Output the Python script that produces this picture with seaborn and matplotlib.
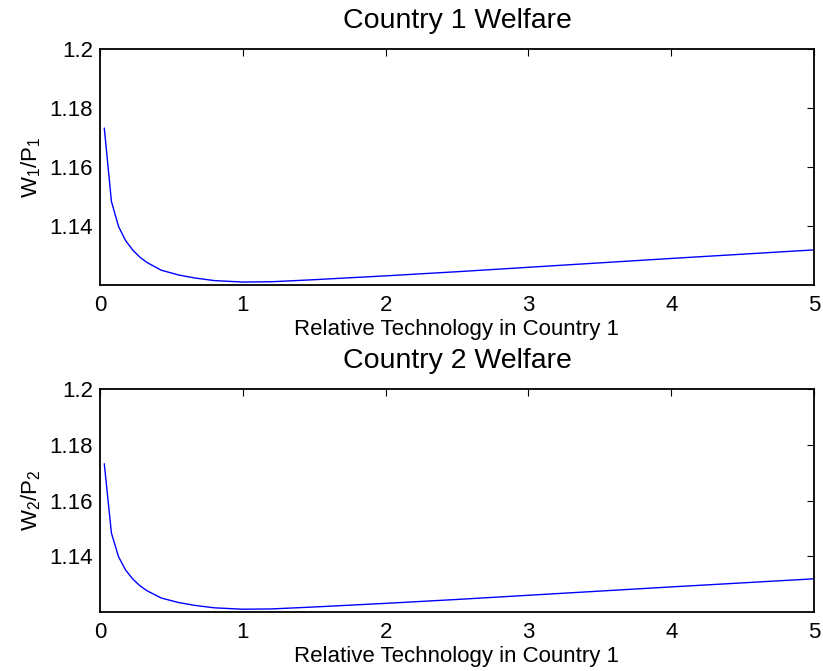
import matplotlib
matplotlib.use('Agg')
import matplotlib.pyplot as plt
import seaborn as sns
import pandas as pd

# значения
tech = [0.03, 0.08, 0.13, 0.18, 0.23, 0.28, 0.33, 0.43, 0.55, 0.66, 0.8,
        1.0, 1.2, 1.5, 2.0, 2.5, 3.0, 4.0, 5.0]
welfare_1 = [1.1732, 1.1483, 1.1398, 1.1350, 1.1318, 1.1294, 1.1276, 1.1250,
             1.1234, 1.1224, 1.1215, 1.1210, 1.1211, 1.1218, 1.1231, 1.1245,
             1.1260, 1.1290, 1.1319]
welfare_2 = [1.1732, 1.1483, 1.1398, 1.1350, 1.1318, 1.1294, 1.1276, 1.1250,
             1.1234, 1.1224, 1.1215, 1.1210, 1.1211, 1.1218, 1.1231, 1.1245,
             1.1260, 1.1290, 1.1319]
x_ticks = [0, 1, 2, 3, 4, 5]
y_ticks = [1.14, 1.16, 1.18, 1.2]
y_tick_labels = ['1.14', '1.16', '1.18', '1.2']
titles = ['Country 1 Welfare', 'Country 2 Welfare']
ylabels = [r'W$_1$/P$_1$', r'W$_2$/P$_2$']
xlabel = 'Relative Technology in Country 1'

sns.set_theme(style='white')
plt.rcParams['font.family'] = ['Liberation Sans', 'DejaVu Sans']
plt.rcParams['mathtext.fontset'] = 'custom'
plt.rcParams['mathtext.rm'] = 'Liberation Sans'
plt.rcParams['mathtext.it'] = 'Liberation Sans'

fig = plt.figure(figsize=(8.23, 6.71), dpi=100)
fig.patch.set_facecolor('white')

# позиции осей в долях фигуры
positions = [[100 / 823, (671 - 285) / 671, 714 / 823, 236 / 671],
             [100 / 823, (671 - 612) / 671, 714 / 823, 223 / 671]]
series = [welfare_1, welfare_2]

for pos, vals, title, ylab in zip(positions, series, titles, ylabels):
    ax = fig.add_axes(pos)
    df = pd.DataFrame({'tech': tech, 'welfare': vals})
    sns.lineplot(data=df, x='tech', y='welfare', ax=ax, color='#0000ff',
                 linewidth=1.0, estimator=None, sort=False)
    ax.set_xlim(0, 5)
    ax.set_ylim(1.12, 1.2)
    ax.set_xticks(x_ticks)
    ax.set_xticklabels([str(t) for t in x_ticks])
    ax.set_yticks(y_ticks)
    ax.set_yticklabels(y_tick_labels)
    ax.tick_params(direction='in', length=5, width=0.8, colors='black',
                   labelsize=16, top=True, right=True)
    ax.tick_params(axis='x', pad=7)
    ax.tick_params(axis='y', pad=5)
    for s in ax.spines.values():
        s.set_visible(True)
        s.set_color('black')
        s.set_linewidth(1.3)
    ax.set_facecolor('white')
    ax.set_title(title, fontsize=20.5, pad=15, color='black')
    ax.set_xlabel(xlabel, fontsize=16, labelpad=2.5, color='black')
    ax.set_ylabel(ylab, fontsize=16, color='black')
    ax.yaxis.set_label_coords(-0.08, 0.5)

fig.savefig('out.png', dpi=100, facecolor='white')
